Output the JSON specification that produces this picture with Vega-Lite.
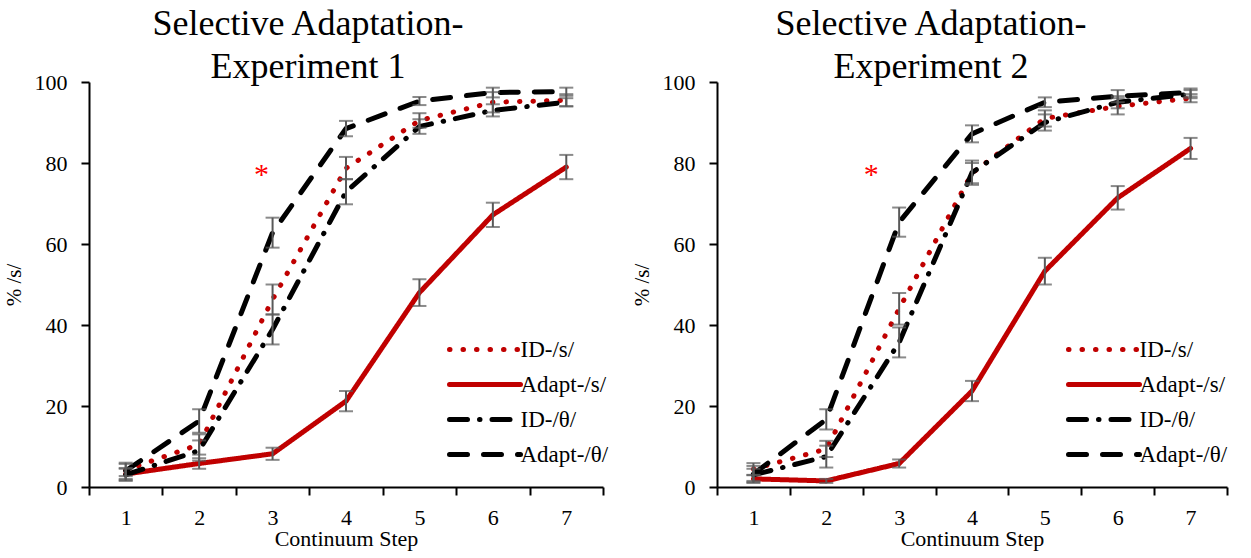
{
  "$schema": "https://vega.github.io/schema/vega-lite/v6.json",
  "background": "white",
  "padding": {"left": 3, "top": 6, "right": 5, "bottom": 2},
  "spacing": 22,
  "config": {
    "font": "Liberation Serif",
    "view": {"stroke": null},
    "axis": {
      "domainColor": "black", "domainWidth": 2, "tickColor": "black", "tickWidth": 2, "tickSize": 8,
      "labelFont": "Liberation Serif", "labelFontSize": 22, "labelColor": "black",
      "titleFont": "Liberation Serif", "titleFontWeight": "normal", "titleColor": "black", "grid": false
    },
    "title": {"font": "Liberation Serif", "fontSize": 36, "fontWeight": "normal", "color": "black", "lineHeight": 43, "anchor": "middle", "offset": -15}
  },
  "datasets": {
    "exp1": [
      {"step": 1, "series": "ID-/s/", "pct": 4.2, "lo": 2.7, "hi": 5.7},
      {"step": 2, "series": "ID-/s/", "pct": 10.5, "lo": 8.0, "hi": 13.0},
      {"step": 3, "series": "ID-/s/", "pct": 46.3, "lo": 42.6, "hi": 50.0},
      {"step": 4, "series": "ID-/s/", "pct": 78.7, "lo": 76.0, "hi": 81.5},
      {"step": 5, "series": "ID-/s/", "pct": 90.5, "lo": 88.7, "hi": 92.3},
      {"step": 6, "series": "ID-/s/", "pct": 95.0, "lo": 92.5, "hi": 97.5},
      {"step": 7, "series": "ID-/s/", "pct": 95.5, "lo": 94.0, "hi": 97.0},
      {"step": 1, "series": "Adapt-/s/", "pct": 3.2, "lo": 1.7, "hi": 4.7},
      {"step": 2, "series": "Adapt-/s/", "pct": 5.8, "lo": 4.5, "hi": 7.1},
      {"step": 3, "series": "Adapt-/s/", "pct": 8.2, "lo": 6.7, "hi": 9.7},
      {"step": 4, "series": "Adapt-/s/", "pct": 21.2, "lo": 18.7, "hi": 23.7},
      {"step": 5, "series": "Adapt-/s/", "pct": 48.0, "lo": 44.7, "hi": 51.3},
      {"step": 6, "series": "Adapt-/s/", "pct": 67.2, "lo": 64.2, "hi": 70.2},
      {"step": 7, "series": "Adapt-/s/", "pct": 79.0, "lo": 76.0, "hi": 82.0},
      {"step": 1, "series": "ID-/θ/", "pct": 3.0, "lo": 1.5, "hi": 4.5},
      {"step": 2, "series": "ID-/θ/", "pct": 9.0, "lo": 6.5, "hi": 11.5},
      {"step": 3, "series": "ID-/θ/", "pct": 38.9, "lo": 35.2, "hi": 42.6},
      {"step": 4, "series": "ID-/θ/", "pct": 72.9, "lo": 69.8, "hi": 76.0},
      {"step": 5, "series": "ID-/θ/", "pct": 89.0, "lo": 87.2, "hi": 90.8},
      {"step": 6, "series": "ID-/θ/", "pct": 93.0, "lo": 91.5, "hi": 94.5},
      {"step": 7, "series": "ID-/θ/", "pct": 95.0, "lo": 94.0, "hi": 96.0},
      {"step": 1, "series": "Adapt-/θ/", "pct": 4.0, "lo": 2.0, "hi": 6.0},
      {"step": 2, "series": "Adapt-/θ/", "pct": 16.3, "lo": 13.4, "hi": 19.2},
      {"step": 3, "series": "Adapt-/θ/", "pct": 62.8, "lo": 59.1, "hi": 66.5},
      {"step": 4, "series": "Adapt-/θ/", "pct": 88.5, "lo": 86.6, "hi": 90.4},
      {"step": 5, "series": "Adapt-/θ/", "pct": 95.3, "lo": 94.3, "hi": 96.3},
      {"step": 6, "series": "Adapt-/θ/", "pct": 97.4, "lo": 96.2, "hi": 98.6},
      {"step": 7, "series": "Adapt-/θ/", "pct": 97.6, "lo": 96.6, "hi": 98.6}
    ],
    "exp2": [
      {"step": 1, "series": "ID-/s/", "pct": 4.4, "lo": 2.9, "hi": 5.9},
      {"step": 2, "series": "ID-/s/", "pct": 9.4, "lo": 7.4, "hi": 11.4},
      {"step": 3, "series": "ID-/s/", "pct": 44.0, "lo": 40.1, "hi": 47.9},
      {"step": 4, "series": "ID-/s/", "pct": 77.5, "lo": 75.0, "hi": 80.0},
      {"step": 5, "series": "ID-/s/", "pct": 91.0, "lo": 89.0, "hi": 93.0},
      {"step": 6, "series": "ID-/s/", "pct": 94.0, "lo": 92.0, "hi": 96.0},
      {"step": 7, "series": "ID-/s/", "pct": 96.0, "lo": 95.0, "hi": 97.0},
      {"step": 1, "series": "Adapt-/s/", "pct": 2.0, "lo": 1.0, "hi": 3.0},
      {"step": 2, "series": "Adapt-/s/", "pct": 1.5, "lo": 1.0, "hi": 2.0},
      {"step": 3, "series": "Adapt-/s/", "pct": 5.8, "lo": 4.8, "hi": 6.8},
      {"step": 4, "series": "Adapt-/s/", "pct": 23.7, "lo": 21.2, "hi": 26.2},
      {"step": 5, "series": "Adapt-/s/", "pct": 53.3, "lo": 50.0, "hi": 56.6},
      {"step": 6, "series": "Adapt-/s/", "pct": 71.4, "lo": 68.5, "hi": 74.3},
      {"step": 7, "series": "Adapt-/s/", "pct": 83.6, "lo": 81.0, "hi": 86.2},
      {"step": 1, "series": "ID-/θ/", "pct": 3.0, "lo": 1.5, "hi": 4.5},
      {"step": 2, "series": "ID-/θ/", "pct": 7.5, "lo": 4.8, "hi": 10.2},
      {"step": 3, "series": "ID-/θ/", "pct": 35.7, "lo": 32.0, "hi": 39.4},
      {"step": 4, "series": "ID-/θ/", "pct": 77.6, "lo": 74.6, "hi": 80.6},
      {"step": 5, "series": "ID-/θ/", "pct": 90.0, "lo": 88.0, "hi": 92.0},
      {"step": 6, "series": "ID-/θ/", "pct": 95.0, "lo": 93.5, "hi": 96.5},
      {"step": 7, "series": "ID-/θ/", "pct": 97.0, "lo": 96.0, "hi": 98.0},
      {"step": 1, "series": "Adapt-/θ/", "pct": 3.2, "lo": 1.2, "hi": 5.2},
      {"step": 2, "series": "Adapt-/θ/", "pct": 16.7, "lo": 14.2, "hi": 19.2},
      {"step": 3, "series": "Adapt-/θ/", "pct": 65.4, "lo": 61.8, "hi": 69.0},
      {"step": 4, "series": "Adapt-/θ/", "pct": 87.2, "lo": 85.1, "hi": 89.3},
      {"step": 5, "series": "Adapt-/θ/", "pct": 95.0, "lo": 93.8, "hi": 96.2},
      {"step": 6, "series": "Adapt-/θ/", "pct": 96.5, "lo": 95.0, "hi": 98.0},
      {"step": 7, "series": "Adapt-/θ/", "pct": 97.4, "lo": 96.4, "hi": 98.4}
    ],
    "star": [{"step": 3, "pct": 77, "mark": "*"}]
  },
  "resolve": {"scale": {"color": "independent", "strokeDash": "independent"}, "legend": {"color": "independent", "strokeDash": "independent"}},
  "hconcat": [
    {
      "width": 514, "height": 405,
      "title": {"text": ["Selective Adaptation-", "Experiment 1"], "dx": -38},
      "encoding": {
        "x": {"field": "step", "type": "ordinal", "scale": {"type": "band", "paddingInner": 0, "paddingOuter": 0},
              "axis": {"title": "Continuum Step", "titleFontSize": 22, "labelAngle": 0, "tickBand": "extent", "labelPadding": 12, "titlePadding": 0}},
        "y": {"type": "quantitative", "scale": {"domain": [0, 100], "nice": false},
              "axis": {"title": "% /s/", "titleFontSize": 21, "values": [0, 20, 40, 60, 80, 100], "labelPadding": 14, "titlePadding": 10}}
      },
      "layer": [
        {
          "data": {"name": "exp1"},
          "mark": {"type": "line", "strokeWidth": 5, "strokeCap": "round"},
          "encoding": {
            "y": {"field": "pct", "type": "quantitative"},
            "color": {"field": "series", "type": "nominal",
              "scale": {"domain": ["ID-/s/", "Adapt-/s/", "ID-/θ/", "Adapt-/θ/"], "range": ["#C00000", "#C00000", "#000000", "#000000"]},
              "legend": {"title": null, "orient": "none", "legendX": 354, "legendY": 256, "symbolType": "M-7.1,0L7.1,0", "symbolSize": 100, "symbolStrokeWidth": 5, "symbolOffset": 30.5,
                "labelFont": "Liberation Serif", "labelFontSize": 23, "labelColor": "black", "labelOffset": 24, "rowPadding": 11,
                "encode": {"symbols": {"update": {"strokeCap": {"value": "round"}, "strokeJoin": {"value": "round"}}}}}},
            "strokeDash": {"field": "series", "type": "nominal",
              "scale": {"domain": ["ID-/s/", "Adapt-/s/", "ID-/θ/", "Adapt-/θ/"], "range": [[0.5, 13], [1, 0], [18, 12, 0.5, 12], [18, 16]]}}
          }
        },
        {
          "data": {"name": "exp1"},
          "mark": {"type": "errorbar", "color": "#595959", "ticks": {"size": 14, "thickness": 2}, "rule": {"strokeWidth": 2}},
          "encoding": {
            "y": {"field": "lo", "type": "quantitative"},
            "y2": {"field": "hi"},
            "detail": {"field": "series"}
          }
        },
        {
          "data": {"name": "star"},
          "mark": {"type": "text", "color": "#FF0000", "fontSize": 30, "font": "Liberation Serif", "dx": -11, "dy": 9, "baseline": "alphabetic"},
          "encoding": {
            "y": {"field": "pct", "type": "quantitative"},
            "text": {"field": "mark"}
          }
        }
      ]
    },
    {
      "width": 510, "height": 405,
      "title": {"text": ["Selective Adaptation-", "Experiment 2"], "dx": -41},
      "encoding": {
        "x": {"field": "step", "type": "ordinal", "scale": {"type": "band", "paddingInner": 0, "paddingOuter": 0},
              "axis": {"title": "Continuum Step", "titleFontSize": 22, "labelAngle": 0, "tickBand": "extent", "labelPadding": 12, "titlePadding": 0}},
        "y": {"type": "quantitative", "scale": {"domain": [0, 100], "nice": false},
              "axis": {"title": "% /s/", "titleFontSize": 21, "values": [0, 20, 40, 60, 80, 100], "labelPadding": 14, "titlePadding": 10}}
      },
      "layer": [
        {
          "data": {"name": "exp2"},
          "mark": {"type": "line", "strokeWidth": 5, "strokeCap": "round"},
          "encoding": {
            "y": {"field": "pct", "type": "quantitative"},
            "color": {"field": "series", "type": "nominal",
              "scale": {"domain": ["ID-/s/", "Adapt-/s/", "ID-/θ/", "Adapt-/θ/"], "range": ["#C00000", "#C00000", "#000000", "#000000"]},
              "legend": {"title": null, "orient": "none", "legendX": 345, "legendY": 256, "symbolType": "M-7.1,0L7.1,0", "symbolSize": 100, "symbolStrokeWidth": 5, "symbolOffset": 30.5,
                "labelFont": "Liberation Serif", "labelFontSize": 23, "labelColor": "black", "labelOffset": 24, "rowPadding": 11,
                "encode": {"symbols": {"update": {"strokeCap": {"value": "round"}, "strokeJoin": {"value": "round"}}}}}},
            "strokeDash": {"field": "series", "type": "nominal",
              "scale": {"domain": ["ID-/s/", "Adapt-/s/", "ID-/θ/", "Adapt-/θ/"], "range": [[0.5, 13], [1, 0], [18, 12, 0.5, 12], [18, 16]]}}
          }
        },
        {
          "data": {"name": "exp2"},
          "mark": {"type": "errorbar", "color": "#595959", "ticks": {"size": 14, "thickness": 2}, "rule": {"strokeWidth": 2}},
          "encoding": {
            "y": {"field": "lo", "type": "quantitative"},
            "y2": {"field": "hi"},
            "detail": {"field": "series"}
          }
        },
        {
          "data": {"name": "star"},
          "mark": {"type": "text", "color": "#FF0000", "fontSize": 30, "font": "Liberation Serif", "dx": -28, "dy": 9, "baseline": "alphabetic"},
          "encoding": {
            "y": {"field": "pct", "type": "quantitative"},
            "text": {"field": "mark"}
          }
        }
      ]
    }
  ]
}
